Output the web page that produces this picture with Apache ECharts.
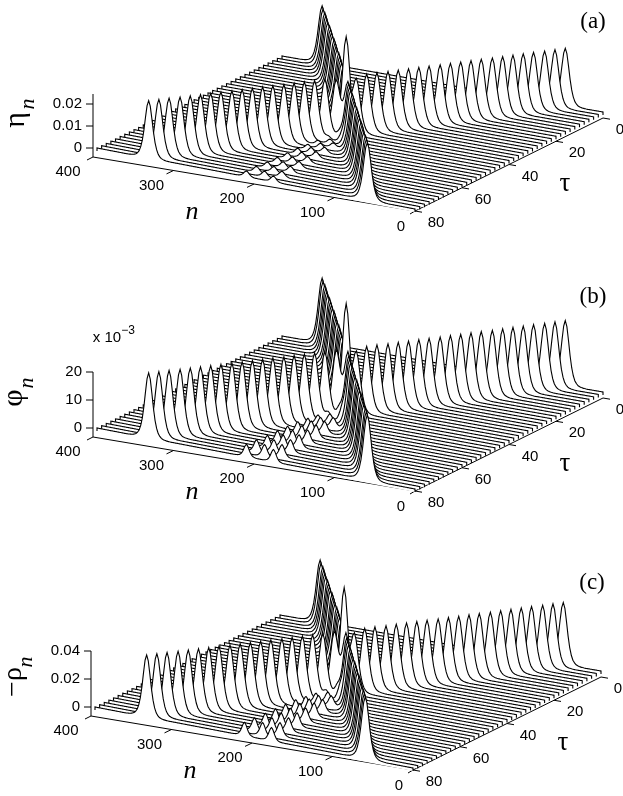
<!DOCTYPE html>
<html>
<head>
<meta charset="utf-8">
<style>html,body{margin:0;padding:0;background:#fff}#c{width:623px;height:796px}</style>
<script src="https://cdn.jsdelivr.net/npm/echarts@6/dist/echarts.min.js"></script>
</head>
<body>
<div id="c"></div>
<script>
// ---- values ----
const taus = [0,2,4,6,8,10,12,14,16,18,20,22,24,26,28,30,32,34,36,38,40,42,44,46,48,50,52,54,56,58,60,62,64,66,68,70,72,74,76,78,80];
const pulseA = [50,57,65,72,79,86,94,101,108,115,123,130,137,144,152,159,166,173,181,188,195,202,210,217,224,231,239,246,253,260,268,275,282,289,297,304,311,318,326,333,340];
const pulseB = [353,346,339,331,324,317,310,303,295,288,281,274,267,259,252,245,238,231,223,216,209,202,195,187,180,173,166,159,151,144,137,130,123,115,108,101,94,87,79,72,65];
const ampA = [1,1,1,1,1,1,1,1,1,1,1,1,1,1,1,1,1,1,1,1,0.9,0.85,0.9,1,1,1,1,1,1,1,1,1,1,1,1,1,1,1,1,1,1];
const ampB = [1,1,1,1,1,1,1,1,1,1,1,1,1,1,1,1,1,1,1,1,0.9,0.85,0.9,1,1,1,1,1,1,1,1,1,1,1,1,1,1,1,1,1,1];
const rippleUp = [0,0,0,0,0,0,0,0,0,0,0,0,0,0,0,0,0,0,0,0,0,0,212,213,214,214,215,215,216,216,217,217,218,218,219,219,220,220,221,221,222];
const rippleMid = [0,0,0,0,0,0,0,0,0,0,0,0,0,0,0,0,0,0,0,0,0,0,205,205,205,205,205,205,205,205,205,205,205,205,205,205,205,205,205,205,205];
const rippleDown = [0,0,0,0,0,0,0,0,0,0,0,0,0,0,0,0,0,0,0,0,0,0,198,197,197,196,196,195,195,194,194,193,193,192,192,191,191,190,189,188,188];
const rippleUpAmp = [0,0,0,0,0,0,0,0,0,0,0,0,0,0,0,0,0,0,0,0,0,0,0.5,0,0.6,0,0.8,0,0.9,0,1,0,1,0,1,0,1,0,1,0,1];
const rippleMidAmp = [0,0,0,0,0,0,0,0,0,0,0,0,0,0,0,0,0,0,0,0,0,0,0,0.6,0,0.8,0,0.9,0,1,0,1,0,1,0,1,0,1,0,1,0];
const rippleDownAmp = [0,0,0,0,0,0,0,0,0,0,0,0,0,0,0,0,0,0,0,0,0,0,0.5,0,0.6,0,0.8,0,0.9,0,1,0,1,0,1,0,1,0,1,0,1];
// relative pulse height at |n - centre| = 0, 2, 4, ... 28
const pulseShape = [1,0.91,0.7,0.47,0.29,0.17,0.095,0.055,0.03,0.018,0.01,0.006,0.003,0.001,0];
const nTicks = [400,300,200,100,0];
const tauTicks = [80,60,40,20,0];
const etaTicks = [0,0.01,0.02];
const etaTickLabels = ['0','0.01','0.02'];
const phiTicks = [0,10,20];
const phiTickLabels = ['0','10','20'];
const rhoTicks = [0,0.02,0.04];
const rhoTickLabels = ['0','0.02','0.04'];
const etaPeak = 0.026, phiPeak = 23.2, rhoPeak = 0.0443;
const etaRipple = 0.0026, phiRipple = 4.4, rhoRipple = 0.0095;

// ---- layout ----
const panels = [
  {dx:0, dy:0,  peak:etaPeak, ripple:etaRipple, scale:2200, ticks:etaTicks, labels:etaTickLabels, top:94, tag:'(a)', tagY:22, tagX:593},
  {dx:0, dy:280,peak:phiPeak, ripple:phiRipple, scale:2.8,  ticks:phiTicks, labels:phiTickLabels, top:92, tag:'(b)', tagY:17, tagX:593},
  {dx:-2,dy:559,peak:rhoPeak, ripple:rhoRipple, scale:1400, ticks:rhoTicks, labels:rhoTickLabels, top:92, tag:'(c)', tagY:24, tagX:592}
];
const lineCol = '#000', lineW = 1.1, skirt = 3, rippleNarrow = 1.45;

function shape(d){
  const o = Math.abs(d)/2, k = Math.floor(o);
  if (k >= pulseShape.length-1) return 0;
  return pulseShape[k] + (pulseShape[k+1]-pulseShape[k])*(o-k);
}
function height(p,i,n){
  let z = p.peak*(ampA[i]*shape(n-pulseA[i]) + ampB[i]*shape(n-pulseB[i]));
  if (rippleUp[i]) z += p.ripple*(rippleUpAmp[i]*shape((n-rippleUp[i])*rippleNarrow)
    + rippleMidAmp[i]*shape((n-rippleMid[i])*rippleNarrow)
    + rippleDownAmp[i]*shape((n-rippleDown[i])*rippleNarrow));
  return z;
}
// oblique view: sheet corners in plot units
function sheet(p,n,t){
  const a=1-n/400, b=t/80;
  const x = (1-a)*((1-b)*603+b*415) + a*((1-b)*282+b*97);
  const y = (1-a)*((1-b)*112+b*209) + a*((1-b)*56+b*148);
  return [x+p.dx,y+p.dy];
}
function floorPt(p,n,t){
  const a=n/400, b=1-t/80;
  return [415+p.dx - a*322 + b*188, 211+p.dy - a*54 - b*93];
}

function sliceSeries(p){
  return {
    type:'custom', coordinateSystem:'cartesian2d', silent:true, progressive:0, animation:false, clip:false,
    data: taus.map((t,i)=>[t,i]),
    renderItem(params,api){
      const t=api.value(0), i=api.value(1), pts=[];
      const s0=sheet(p,400,t); pts.push(api.coord([s0[0],s0[1]+skirt]));
      for(let n=400;n>=0;n--){
        const s=sheet(p,n,t);
        pts.push(api.coord([s[0],s[1]-height(p,i,n)*p.scale]));
      }
      const s1=sheet(p,0,t); pts.push(api.coord([s1[0],s1[1]+skirt]));
      return {type:'group',children:[
        {type:'polygon',shape:{points:pts},style:{fill:'#fff',stroke:null}},
        {type:'polyline',shape:{points:pts},style:{fill:null,stroke:lineCol,lineWidth:lineW}}
      ]};
    }
  };
}
function axisSeries(p){
  return {
    type:'custom', coordinateSystem:'cartesian2d', silent:true, animation:false, clip:false, z:1,
    data:[[0,0]],
    renderItem(params,api){
      const ch=[];
      const line=(a,b)=>ch.push({type:'line',shape:{x1:api.coord(a)[0],y1:api.coord(a)[1],x2:api.coord(b)[0],y2:api.coord(b)[1]},style:{stroke:lineCol,lineWidth:1}});
      const text=(s,x,y,font,align)=>{const c=api.coord([x,y]);ch.push({type:'text',x:c[0],y:c[1],style:{text:s,font:font,fill:'#000',textAlign:align||'center',textVerticalAlign:'middle'}});};
      const sans='15px "Liberation Sans"';
      const x0=93+p.dx, floorY=157+p.dy, zeroY=148+p.dy;
      line([x0,floorY],[x0,p.top+p.dy]);
      line([x0,floorY],[x0-6,floorY+3]);
      p.ticks.forEach((v,k)=>{
        const y=zeroY-v*p.scale;
        line([x0,y],[x0-7,y]);
        text(p.labels[k],x0-11,y,sans,'right');
      });
      line(floorPt(p,400,80),floorPt(p,0,80));
      nTicks.forEach(n=>{
        const q=floorPt(p,n,80);
        if(n>0&&n<400) line(q,[q[0]-7,q[1]+3.4]);
        if(n===0) line(q,[q[0]-5,q[1]+3]);
        const off=n===0?[-14,16]:(n===400?[-25,15]:[-22,15]);
        text(String(n),q[0]+off[0],q[1]+off[1],sans);
      });
      line(floorPt(p,0,80),floorPt(p,0,0));
      tauTicks.forEach(t=>{
        const q=floorPt(p,0,t);
        line(q,[q[0]+7,q[1]+1.2]);
        text(String(t),q[0]+(t===0?17:21),q[1]+12,sans);
      });
      text('n',192+p.dx,212+p.dy,'italic 26px "Liberation Serif"');
      text('τ',565+p.dx,184+p.dy,'27px "Liberation Serif"');
      text(p.tag,p.tagX,p.tagY+p.dy,'23px "Liberation Serif"');
      return {type:'group',children:ch};
    }
  };
}
function freeText(s,x,y,font,rot){
  return {type:'text',x,y,rotation:rot||0,z:10,style:{text:s,font,fill:'#000',textAlign:'center',textVerticalAlign:'middle'}};
}
const R=Math.PI/2;
const option={
  animation:false,backgroundColor:'#fff',
  grid:{left:0,right:0,top:0,bottom:0},
  xAxis:{type:'value',min:0,max:623,show:false},
  yAxis:{type:'value',min:0,max:796,inverse:true,show:false},
  graphic:[
    freeText('η',16,120,'30px "Liberation Serif"',R),
    freeText('n',28,104,'italic 22px "Liberation Serif"',R),
    freeText('φ',14,398,'30px "Liberation Serif"',R),
    freeText('n',27,383,'italic 22px "Liberation Serif"',R),
    freeText('−ρ',14,682,'28px "Liberation Serif"',R),
    freeText('n',26,662,'italic 22px "Liberation Serif"',R),
    freeText('x 10',107,338,'15px "Liberation Sans"'),
    freeText('−3',128,331,'12px "Liberation Sans"')
  ],
  series:[]
};
panels.forEach(p=>{option.series.push(axisSeries(p));option.series.push(sliceSeries(p));});
const chart=echarts.init(document.getElementById('c'),null,{width:623,height:796});
chart.setOption(option);
</script>
</body>
</html>
